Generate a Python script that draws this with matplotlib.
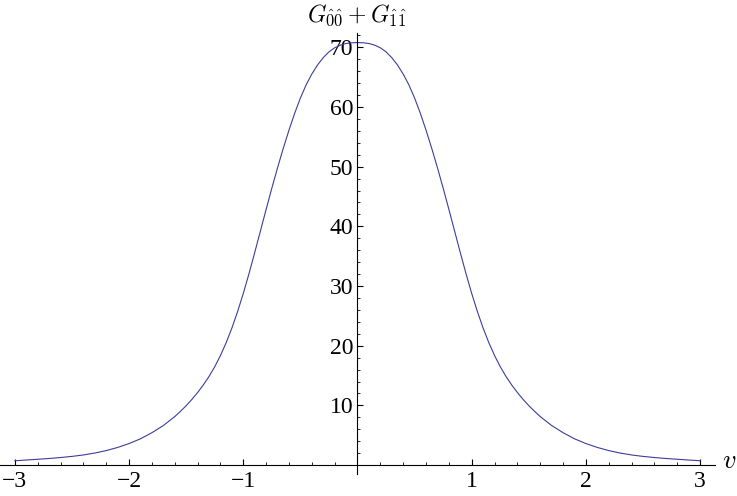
import matplotlib
matplotlib.use("Agg")
import matplotlib.pyplot as plt
from matplotlib.ticker import MultipleLocator, FixedLocator, FuncFormatter

# Data (curve is symmetric about v = 0)
v_half = [0.0, 0.05, 0.1, 0.15, 0.2, 0.25, 0.3, 0.35, 0.4, 0.45, 0.5, 0.55, 0.6,
          0.65, 0.7, 0.75, 0.8, 0.85, 0.9, 0.95, 1.0, 1.05, 1.1, 1.15, 1.2, 1.25,
          1.3, 1.35, 1.4, 1.45, 1.5, 1.55, 1.6, 1.7, 1.8, 1.9, 2.0, 2.1, 2.2, 2.3,
          2.4, 2.5, 2.6, 2.7, 2.8, 2.9, 3.0]
g_half = [70.8, 70.76, 70.64, 70.37, 69.92, 69.24, 68.27, 67.04, 65.52, 63.70,
          61.50, 58.95, 56.12, 53.07, 49.82, 46.40, 42.85, 39.22, 35.60, 32.07,
          28.75, 25.70, 22.95, 20.50, 18.35, 16.47, 14.85, 13.42, 12.15, 11.00,
          9.95, 9.00, 8.12, 6.62, 5.42, 4.40, 3.60, 2.95, 2.42, 2.01, 1.69, 1.45,
          1.26, 1.10, 0.97, 0.84, 0.72]

v_vals = [-x for x in v_half[:0:-1]] + v_half
g_vals = g_half[:0:-1] + g_half

x_ticks = [-3, -2, -1, 1, 2, 3]
y_ticks = [10, 20, 30, 40, 50, 60, 70]
y_label = r"$G_{\hat{0}\hat{0}}+G_{\hat{1}\hat{1}}$"
x_label = r"$v$"

plt.rcParams["mathtext.fontset"] = "cm"
plt.rcParams["font.family"] = ["Liberation Serif", "DejaVu Serif"]

W, H = 737, 496
fig = plt.figure(figsize=(W / 100, H / 100), dpi=100)
left_px, right_px, top_px, bot_px = 0, 715, 33, 474
ax = fig.add_axes([left_px / W, (H - bot_px) / H, (right_px - left_px) / W, (bot_px - top_px) / H])

ax.plot(v_vals, g_vals, color="#3d3d99", lw=0.8, solid_joinstyle="round")

ax.set_xlim(-3.13, 3.13)
ax.set_ylim(-1.5, 72.4)

for s in ["top", "right"]:
    ax.spines[s].set_visible(False)
ax.spines["left"].set_position(("data", 0))
ax.spines["bottom"].set_position(("data", 0))
for s in ["left", "bottom"]:
    ax.spines[s].set_linewidth(0.8)

ax.xaxis.set_major_locator(FixedLocator(x_ticks))
ax.yaxis.set_major_locator(FixedLocator(y_ticks))
ax.xaxis.set_minor_locator(MultipleLocator(0.2))
ax.yaxis.set_minor_locator(MultipleLocator(2))

fmt = FuncFormatter(lambda x, p: ("\u2212" if x < 0 else "") + f"{abs(x):g}")
ax.xaxis.set_major_formatter(fmt)
ax.yaxis.set_major_formatter(fmt)

ax.tick_params(which="major", direction="in", length=4.0, width=0.8, labelsize=17, pad=4)
ax.tick_params(which="minor", direction="in", length=2.0, width=0.6)
ax.tick_params(axis="y", which="major", pad=3)

fig.text(357 / W, 1 - 15 / H, y_label, ha="center", va="center", fontsize=17)
fig.text(729 / W, 1 - 462 / H, x_label, ha="center", va="center", fontsize=19)

fig.savefig("out.png", dpi=100)
